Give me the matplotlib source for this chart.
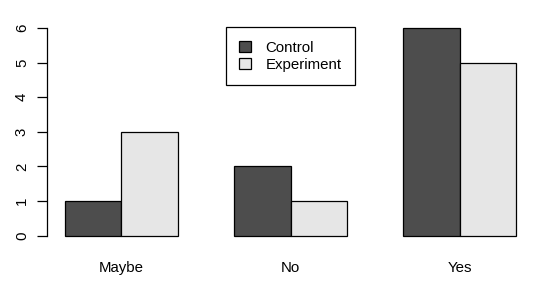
import numpy as np
import matplotlib
matplotlib.use("Agg")
import matplotlib.pyplot as plt
from matplotlib.patches import Patch

plt.rcParams["font.family"] = ["Liberation Sans", "DejaVu Sans"]

# --- datos ---
categorias = ["Maybe", "No", "Yes"]
control = [1, 2, 6]
experimento = [3, 1, 5]
series = ["Control", "Experiment"]
colores = ["#4D4D4D", "#E6E6E6"]

fig = plt.figure(figsize=(5.43, 2.88), dpi=100)
ax = fig.add_axes([0.0866, 0.1528, 0.8968, 0.7788])

# posiciones tipo barplot(beside=TRUE) de R
centros = np.array([2.0, 5.0, 8.0])
ax.bar(centros - 0.5, control, width=1.0, color=colores[0], edgecolor="black", linewidth=0.9)
ax.bar(centros + 0.5, experimento, width=1.0, color=colores[1], edgecolor="black", linewidth=0.9)

ax.set_xlim(0.68, 9.32)
ax.set_ylim(-0.24, 6.24)

for s in ["top", "right", "bottom"]:
    ax.spines[s].set_visible(False)
ax.spines["left"].set_bounds(0, 6)
ax.spines["left"].set_linewidth(0.9)

ax.set_yticks(range(0, 7))
ax.set_yticklabels([str(v) for v in range(0, 7)], rotation=90, va="center", fontsize=10.8)
ax.tick_params(axis="y", length=7, width=0.9, pad=6)
ax.set_xticks([])

for c, lab in zip(centros, categorias):
    ax.text(c, -0.93, lab, ha="center", va="center", fontsize=10.8)

handles = [Patch(facecolor=colores[i], edgecolor="black", linewidth=0.9) for i in range(2)]
leg = ax.legend(handles, series, loc="upper center", bbox_to_anchor=(0.5, 0.967),
                fontsize=10.8, fancybox=False, edgecolor="black", framealpha=1,
                handlelength=0.75, handleheight=0.75, handletextpad=1.0,
                borderpad=0.9, labelspacing=0.2, borderaxespad=0)
leg.get_frame().set_linewidth(0.9)

fig.savefig("out.png", dpi=100)
